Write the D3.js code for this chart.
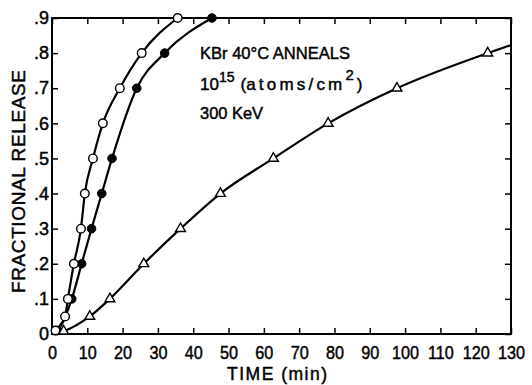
<!DOCTYPE html>
<html><head><meta charset="utf-8">
<script src="https://cdn.jsdelivr.net/npm/d3@7"></script>
<style>
html,body{margin:0;padding:0;background:#fff;}
svg text{font-family:"Liberation Sans",Arial,sans-serif;fill:#000;stroke:#000;stroke-width:0.45px;}
</style></head>
<body>
<svg id="chart" width="532" height="385"></svg>
<script>
// Data (time in min, fractional release)
const openTime    = [1.0, 3.7, 4.5, 6.2, 8.2, 9.3, 11.6, 14.4, 19.2, 25.4, 35.6];
const openRelease = [0.01, 0.05, 0.1, 0.2, 0.3, 0.4, 0.5, 0.6, 0.7, 0.8, 0.9];
const filledTime    = [1.6, 5.6, 8.4, 11.2, 14.1, 17.0, 24.0, 31.9, 45.3];
const filledRelease = [0.01, 0.1, 0.2, 0.3, 0.4, 0.5, 0.7, 0.8, 0.9];
const triTime    = [3.3, 10.7, 16.4, 26.0, 36.4, 47.7, 62.7, 78.2, 97.7, 123.4];
const triRelease = [0.008, 0.05, 0.1, 0.2, 0.3, 0.4, 0.5, 0.6, 0.7, 0.8];
// curve end values (line only)
const triCurveEndTime = 130, triCurveEndRelease = 0.823;
const xTicks = [0,10,20,30,40,50,60,70,80,90,100,110,120,130];
const yTicks = [0,0.1,0.2,0.3,0.4,0.5,0.6,0.7,0.8,0.9];
const yTickLabels = ["0",".1",".2",".3",".4",".5",".6",".7",".8",".9"];

(function(){
const svg = d3.select("#chart");
const L=52, R=511, T=18, B=334;
const x = d3.scaleLinear().domain([0,130]).range([L,R]);
const y = d3.scaleLinear().domain([0,0.9]).range([B,T]);

const zip = (a,b)=>a.map((v,i)=>[v,b[i]]);
const openPts = zip(openTime, openRelease);
const filledPts = zip(filledTime, filledRelease);
const triPts = zip(triTime, triRelease);

// frame
svg.append("rect").attr("x",L).attr("y",T).attr("width",R-L).attr("height",B-T)
  .attr("fill","none").attr("stroke","#000").attr("stroke-width",2);

// axes
const fs = 18;
const gBottom = svg.append("g").attr("transform",`translate(0,${B})`)
  .call(d3.axisBottom(x).tickValues(xTicks).tickSizeInner(-6).tickSizeOuter(0).tickPadding(12));
const gTop = svg.append("g").attr("transform",`translate(0,${T})`)
  .call(d3.axisTop(x).tickValues(xTicks).tickSizeInner(-6).tickSizeOuter(0).tickFormat(""));
const gLeft = svg.append("g").attr("transform",`translate(${L},0)`)
  .call(d3.axisLeft(y).tickValues(yTicks).tickSizeInner(-6).tickSizeOuter(0).tickPadding(3)
    .tickFormat((d,i)=>yTickLabels[i]));
const gRight = svg.append("g").attr("transform",`translate(${R},0)`)
  .call(d3.axisRight(y).tickValues(yTicks).tickSizeInner(-6).tickSizeOuter(0).tickFormat(""));
[gBottom,gTop,gLeft,gRight].forEach(g=>{
  g.select(".domain").remove();
  g.selectAll(".tick line").attr("stroke","#000").attr("stroke-width",1.5);
  g.selectAll("text").attr("font-size",fs).attr("font-family",null)
   .style("font-family",'"Liberation Sans",Arial,sans-serif');
});
gBottom.selectAll("text").attr("transform","scale(0.9,1)");

// curves
const line = d3.line().x(d=>x(d[0])).y(d=>y(d[1])).curve(d3.curveMonotoneX);
const addCurve = pts => svg.append("path").attr("d", line([[0,0], ...pts]))
  .attr("fill","none").attr("stroke","#000").attr("stroke-width",2.2);
addCurve(openPts);
addCurve(filledPts);
addCurve([...triPts, [triCurveEndTime, triCurveEndRelease]]);

// markers
svg.append("g").selectAll("circle").data(filledPts).join("circle")
  .attr("cx",d=>x(d[0])).attr("cy",d=>y(d[1])).attr("r",4.3)
  .attr("fill","#000").attr("stroke","#000").attr("stroke-width",1);
svg.append("g").selectAll("circle").data(openPts).join("circle")
  .attr("cx",d=>x(d[0])).attr("cy",d=>y(d[1])).attr("r",4.3)
  .attr("fill","#fff").attr("stroke","#000").attr("stroke-width",1.4);
const tri = d3.symbol().type(d3.symbolTriangle).size(42);
svg.append("g").selectAll("path").data(triPts).join("path")
  .attr("transform",d=>`translate(${x(d[0])},${y(d[1])})`).attr("d",tri)
  .attr("fill","#fff").attr("stroke","#000").attr("stroke-width",1.4);

// annotations
const ann = svg.append("g").attr("font-size",17);
ann.append("text").attr("x",200).attr("y",59).attr("textLength",150).attr("lengthAdjust","spacingAndGlyphs")
  .text("KBr 40°C ANNEALS");
const t2 = ann.append("text").attr("x",200).attr("y",90);
t2.append("tspan").text("10");
t2.append("tspan").attr("dy",-8).attr("font-size",14).text("15");
t2.append("tspan").attr("dy",8).attr("dx",6).text("(");
t2.append("tspan").attr("letter-spacing",3.2).text("atoms/cm");
t2.append("tspan").attr("dy",-10).attr("font-size",15).text("2");
t2.append("tspan").attr("dy",10).attr("dx",3).text(")");
ann.append("text").attr("x",200).attr("y",119).attr("textLength",63).attr("lengthAdjust","spacingAndGlyphs")
  .text("300 KeV");

// axis titles
svg.append("text").attr("x",227).attr("y",380).attr("textLength",100).attr("lengthAdjust","spacing")
  .attr("font-size",17.5).text("TIME (min)");
svg.append("text").attr("transform","translate(25,293) rotate(-90)")
  .attr("textLength",223).attr("lengthAdjust","spacing")
  .attr("font-size",19).text("FRACTIONAL RELEASE");
})();
</script>
</body></html>
